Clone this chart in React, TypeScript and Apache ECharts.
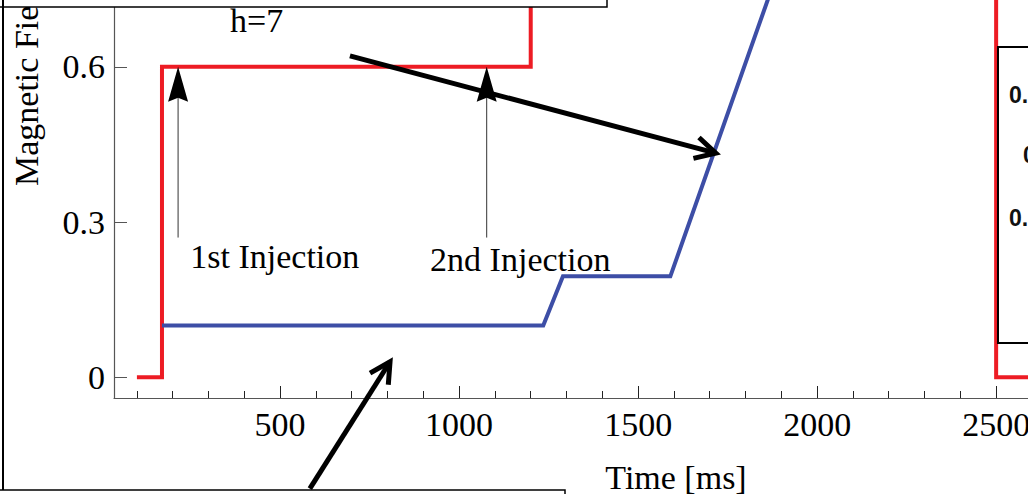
import React, { useEffect, useRef } from "react";
import * as echarts from "echarts";

// ---- data ----
const redTime = [100, 170, 170, 1200, 1200, 2500, 2500, 2600];
const redField = [0, 0, 0.6, 0.6, 0.9, 0.9, 0, 0];
const blueTime = [170, 1235, 1290, 1590, 2000];
const blueField = [0.1, 0.1, 0.195, 0.195, 1.0];

const xMajorTicks = [500, 1000, 1500, 2000, 2500];
const xMinorTicks = [
  100, 200, 300, 400, 500, 600, 700, 800, 900, 1000, 1100, 1200, 1300, 1400,
  1500, 1600, 1700, 1800, 1900, 2000, 2100, 2200, 2300, 2400, 2500,
];
const yTicks = [0, 0.3, 0.6];

// thin injection arrows: time, stem bottom value, tip value
const injectionTimes = [215, 1077];
const injectionStemFrom = [0.27, 0.27];
const injectionStemTo = [0.6, 0.6];
const injectionLabels = ["1st Injection", "2nd Injection"];
const injectionLabelX = [249, 919];
const injectionLabelY = [0.233, 0.227];

// thick pointer arrows: [time, field] start and end
const pointerStart = [
  [695, 0.621],
  [583, -0.215],
];
const pointerEnd = [
  [1717, 0.433],
  [807, 0.03],
];

const hLabel = "h=7";
const hLabelPos = [360, 0.69];

const xTitle = "Time [ms]";
const yTitle = "Magnetic Field [T]";
const insetTexts = ["0.", "0", "0."];

const RED = "#ED1C24";
const BLUE = "#3D4EA6";
const SERIF = '"Liberation Serif", "Times New Roman", serif';
const FS = 34;

export default function App() {
  const ref = useRef<HTMLDivElement>(null);

  useEffect(() => {
    if (!ref.current) return;
    const chart = echarts.init(ref.current, null, { renderer: "svg" });
    const axisColor = "#555";
    const option: any = {
      animation: false,
      backgroundColor: "#fff",
      grid: {
        left: 114,
        right: 0,
        top: 0,
        bottom: 96,
        containLabel: false,
        outerBoundsMode: "none",
      },
      xAxis: [
        {
          type: "value",
          min: 36,
          max: 2589,
          axisLine: { show: true, onZero: false, lineStyle: { color: axisColor, width: 1.2 } },
          axisTick: {
            show: true,
            inside: true,
            length: 7,
            customValues: xMinorTicks,
            lineStyle: { color: "#222", width: 1 },
          },
          axisLabel: {
            show: true,
            customValues: xMajorTicks,
            formatter: (v: number) => String(v),
            margin: 9,
            color: "#000",
            fontFamily: SERIF,
            fontSize: FS,
          },
          splitLine: { show: false },
        },
        {
          type: "value",
          min: 36,
          max: 2589,
          position: "bottom",
          axisLine: { show: false, onZero: false },
          axisTick: {
            show: true,
            inside: true,
            length: 12,
            customValues: xMajorTicks,
            lineStyle: { color: "#222", width: 1 },
          },
          axisLabel: { show: false },
          splitLine: { show: false },
        },
      ],
      yAxis: {
        type: "value",
        min: -0.04,
        max: 0.729,
        axisLine: { show: true, onZero: false, lineStyle: { color: axisColor, width: 1.2 } },
        axisTick: {
          show: true,
          inside: true,
          length: 13,
          customValues: yTicks,
          lineStyle: { color: axisColor, width: 1 },
        },
        axisLabel: {
          show: true,
          customValues: yTicks,
          formatter: (v: number) => String(v),
          margin: 9,
          color: "#000",
          fontFamily: SERIF,
          fontSize: FS,
        },
        splitLine: { show: false },
      },
      series: [
        {
          type: "line",
          name: "red",
          data: redTime.map((t, i) => [t, redField[i]]),
          symbol: "none",
          lineStyle: { color: RED, width: 4, join: "miter" },
          clip: true,
          z: 2,
        },
        {
          type: "line",
          name: "blue",
          data: blueTime.map((t, i) => [t, blueField[i]]),
          symbol: "none",
          lineStyle: { color: BLUE, width: 4, join: "miter" },
          clip: true,
          z: 3,
        },
      ],
    };
    chart.setOption(option);

    const px = (x: number, y: number) =>
      chart.convertToPixel({ seriesIndex: 0 }, [x, y]) as number[];

    const graphics: any[] = [];

    // thin injection arrows
    injectionTimes.forEach((t, i) => {
      const a = px(t, injectionStemFrom[i]);
      const b = px(t, injectionStemTo[i]);
      const headLen = 35;
      const halfW = 10;
      const notch = 4;
      graphics.push({
        type: "line",
        shape: { x1: a[0], y1: a[1], x2: b[0], y2: b[1] + 10 },
        style: { stroke: "#333", lineWidth: 1 },
        z: 20,
      });
      graphics.push({
        type: "polygon",
        shape: {
          points: [
            [b[0], b[1]],
            [b[0] + halfW, b[1] + headLen],
            [b[0], b[1] + headLen - notch],
            [b[0] - halfW, b[1] + headLen],
          ],
        },
        style: { fill: "#000" },
        z: 21,
      });
      const lp = px(injectionLabelX[i], injectionLabelY[i]);
      graphics.push({
        type: "text",
        x: lp[0],
        y: lp[1],
        style: {
          text: injectionLabels[i],
          fill: "#000",
          font: `${FS}px ${SERIF}`,
          align: "left",
          verticalAlign: "middle",
        },
        z: 22,
      });
    });

    // thick pointer arrows with open heads
    pointerStart.forEach((s, i) => {
      const a = px(s[0], s[1]);
      const b = px(pointerEnd[i][0], pointerEnd[i][1]);
      const ang = Math.atan2(a[1] - b[1], a[0] - b[0]);
      const arm = 23;
      const spread = (28 * Math.PI) / 180;
      const p1 = [b[0] + arm * Math.cos(ang + spread), b[1] + arm * Math.sin(ang + spread)];
      const p2 = [b[0] + arm * Math.cos(ang - spread), b[1] + arm * Math.sin(ang - spread)];
      graphics.push({
        type: "line",
        shape: { x1: a[0], y1: a[1], x2: b[0], y2: b[1] },
        style: { stroke: "#000", lineWidth: 5 },
        z: 30,
      });
      graphics.push({
        type: "polyline",
        shape: { points: [p1, b, p2] },
        style: { stroke: "#000", lineWidth: 5, fill: null, lineJoin: "miter" },
        z: 31,
      });
    });

    // h=7 label
    const hp = px(hLabelPos[0], hLabelPos[1]);
    graphics.push({
      type: "text",
      x: hp[0],
      y: hp[1],
      style: {
        text: hLabel,
        fill: "#000",
        font: `${FS}px ${SERIF}`,
        align: "left",
        verticalAlign: "middle",
      },
      z: 22,
    });

    // axis titles
    graphics.push({
      type: "text",
      x: 676,
      y: 477,
      style: {
        text: xTitle,
        fill: "#000",
        font: `${FS}px ${SERIF}`,
        align: "center",
        verticalAlign: "middle",
      },
      z: 22,
    });
    graphics.push({
      type: "text",
      x: 26,
      y: 186,
      rotation: Math.PI / 2,
      style: {
        text: yTitle,
        fill: "#000",
        font: `${FS}px ${SERIF}`,
        align: "left",
        verticalAlign: "middle",
      },
      z: 22,
    });

    // surrounding panel frames (neighbouring figure parts)
    graphics.push({
      type: "rect",
      shape: { x: -5, y: -30, width: 612, height: 37 },
      style: { stroke: "#000", lineWidth: 1.5, fill: "#fff" },
      z: 40,
    });
    graphics.push({
      type: "line",
      shape: { x1: 3, y1: 0, x2: 3, y2: 494 },
      style: { stroke: "#000", lineWidth: 2 },
      z: 40,
    });
    graphics.push({
      type: "rect",
      shape: { x: -5, y: 490, width: 570, height: 40 },
      style: { stroke: "#000", lineWidth: 1.5, fill: "#fff" },
      z: 40,
    });
    graphics.push({
      type: "rect",
      shape: { x: 998, y: 47, width: 100, height: 296 },
      style: { stroke: "#000", lineWidth: 2, fill: "#fff" },
      z: 40,
    });
    const insetPos = [
      [1009, 95],
      [1023, 155],
      [1009, 218],
    ];
    insetTexts.forEach((t, i) => {
      graphics.push({
        type: "text",
        x: insetPos[i][0],
        y: insetPos[i][1],
        style: {
          text: t,
          fill: "#111",
          font: 'bold 23px "Liberation Sans", Arial, sans-serif',
          align: "left",
          verticalAlign: "middle",
        },
        z: 41,
      });
    });

    chart.setOption({ graphic: graphics });

    return () => chart.dispose();
  }, []);

  return (
    <div
      ref={ref}
      style={{ position: "fixed", left: 0, top: 0, width: 1028, height: 494 }}
    />
  );
}
